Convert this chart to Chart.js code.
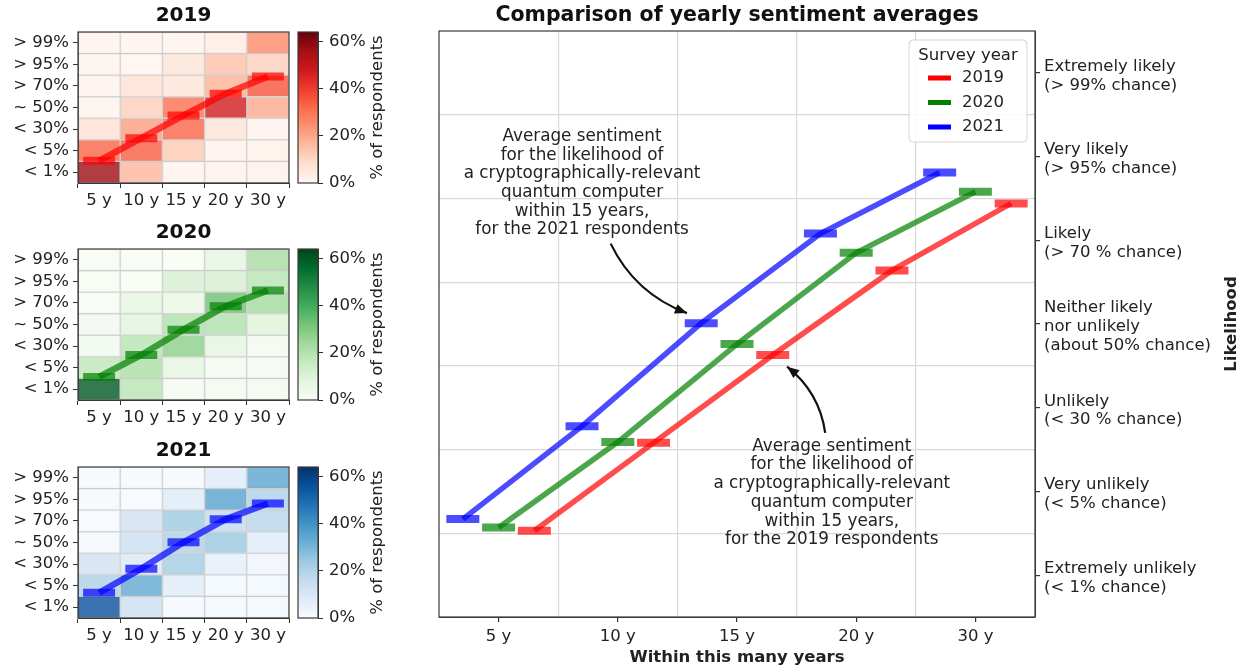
<!DOCTYPE html>
<html>
<head>
<meta charset="utf-8">
<script src="https://cdn.jsdelivr.net/npm/chart.js@4.4.1/dist/chart.umd.min.js"></script>
<style>
  body { margin: 0; background: #fff; width: 1246px; height: 667px; overflow: hidden; position: relative; }
  canvas { position: absolute; }
</style>
</head>
<body>
<canvas id="hm2019" width="300" height="213" style="left:0;top:0"></canvas>
<canvas id="cb2019" width="110" height="213" style="left:290px;top:0"></canvas>
<canvas id="hm2020" width="300" height="213" style="left:0;top:217px"></canvas>
<canvas id="cb2020" width="110" height="213" style="left:290px;top:217px"></canvas>
<canvas id="hm2021" width="300" height="213" style="left:0;top:435px"></canvas>
<canvas id="cb2021" width="110" height="213" style="left:290px;top:435px"></canvas>
<canvas id="main" width="816" height="667" style="left:430px;top:0"></canvas>
<script>
// categories and tick labels
const yearLabels = ['5 y', '10 y', '15 y', '20 y', '30 y'];
const rowLabels = ['< 1%', '< 5%', '< 30%', '~ 50%', '> 70%', '> 95%', '> 99%'];
const likelihoodLabels = [
  ['Extremely unlikely', '(< 1% chance)'],
  ['Very unlikely', '(< 5% chance)'],
  ['Unlikely', '(< 30 % chance)'],
  ['Neither likely', 'nor unlikely', '(about 50% chance)'],
  ['Likely', '(> 70 % chance)'],
  ['Very likely', '(> 95% chance)'],
  ['Extremely likely', '(> 99% chance)']
];
const surveyYears = ['2019', '2020', '2021'];
const cbTicks = [0, 20, 40, 60];
const cbMax = 64;

// average sentiment (0 = < 1% ... 6 = > 99%)
const avg2019 = [0.53, 1.58, 2.63, 3.64, 4.44];
const avg2020 = [0.57, 1.59, 2.76, 3.85, 4.58];
const avg2021 = [0.67, 1.78, 3.01, 4.08, 4.81];

// % of respondents, rows from '< 1%' up to '> 99%', columns 5 y .. 30 y
const share2019 = [
  [57, 17, 1, 2, 2],
  [33, 34, 13, 1, 2],
  [8, 22, 33, 7, 1],
  [1, 12, 31, 47, 20],
  [1, 8, 7, 18, 36],
  [1, 0.5, 7, 15, 12],
  [1, 1, 1, 4, 26]
];
const share2020 = [
  [60, 19, 2, 2, 2],
  [18, 22, 8, 2, 2],
  [3, 19, 28, 8, 2],
  [3, 9, 21, 21, 10],
  [1, 8, 6, 33, 24],
  [1, 0.5, 12, 12, 19],
  [1, 1, 0.5, 8, 23]
];
const share2021 = [
  [56, 14, 1, 2, 2],
  [21, 34, 8, 2, 2],
  [13, 10, 23, 6, 3],
  [2, 14, 21, 25, 8],
  [0.5, 13, 24, 17, 19],
  [1, 0.5, 8, 36, 21],
  [1, 1, 1, 8, 35]
];

const yearColors = ['rgb(255,0,0)', 'rgb(0,128,0)', 'rgb(0,0,255)'];
const yearFaded = ['rgba(255,0,0,0.7)', 'rgba(0,128,0,0.7)', 'rgba(0,0,255,0.7)'];
const yearOffsets = [0.3, 0, -0.3];

const colormaps = {
  Reds: ['#fff5f0', '#fee0d2', '#fcbba1', '#fc9272', '#fb6a4a', '#ef3b2c', '#cb181d', '#a50f15', '#67000d'],
  Greens: ['#f7fcf5', '#e5f5e0', '#c7e9c0', '#a1d99b', '#74c476', '#41ab5d', '#238b45', '#006d2c', '#00441b'],
  Blues: ['#f7fbff', '#deebf7', '#c6dbef', '#9ecae1', '#6baed6', '#4292c6', '#2171b5', '#08519c', '#08306b']
};

Chart.defaults.font.family = "'DejaVu Sans', sans-serif";
Chart.defaults.font.size = 16.5;
Chart.defaults.font.lineHeight = 1.15;
Chart.defaults.color = '#222';
Chart.defaults.animation = false;
Chart.defaults.events = [];
Chart.defaults.plugins.legend.display = false;
Chart.defaults.plugins.tooltip.enabled = false;

function hexRgb(h) {
  return [1, 3, 5].map(i => parseInt(h.slice(i, i + 2), 16));
}

function cmap(stops, t, alpha) {
  t = Math.max(0, Math.min(1, t));
  const p = t * (stops.length - 1);
  const i = Math.min(Math.floor(p), stops.length - 2);
  const f = p - i;
  const a = hexRgb(stops[i]), b = hexRgb(stops[i + 1]);
  const c = a.map((v, k) => Math.round(v + (b[k] - v) * f));
  return `rgba(${c[0]},${c[1]},${c[2]},${alpha})`;
}

function frame(chart) {
  const {ctx, chartArea: a} = chart;
  ctx.save();
  ctx.strokeStyle = '#3a3a3a';
  ctx.lineWidth = 1.2;
  ctx.strokeRect(a.left, a.top, a.right - a.left, a.bottom - a.top);
  ctx.restore();
}

function rotText(ctx, text, x, y, font) {
  ctx.save();
  ctx.translate(x, y);
  ctx.rotate(-Math.PI / 2);
  ctx.font = font;
  ctx.fillStyle = '#222';
  ctx.textAlign = 'center';
  ctx.textBaseline = 'middle';
  ctx.fillText(text, 0, 0);
  ctx.restore();
}

function heatmap(id, title, shares, avg, stops, k) {
  const datasets = shares.map((row, r) => ({
    type: 'bar',
    data: row.map(() => [r - 0.5, r + 0.5]),
    backgroundColor: row.map(v => cmap(stops, v / cbMax, 0.8)),
    borderColor: 'rgba(140,140,140,0.3)',
    borderWidth: 1,
    borderSkipped: false,
    grouped: false,
    barPercentage: 1,
    categoryPercentage: 1,
    order: 2
  }));
  datasets.push({
    type: 'line',
    data: avg,
    borderColor: yearFaded[k],
    borderWidth: 6.5,
    pointStyle: 'line',
    pointRadius: 16,
    pointBorderWidth: 8,
    pointBorderColor: yearFaded[k],
    pointBackgroundColor: yearFaded[k],
    order: 0
  });
  return new Chart(document.getElementById(id), {
    type: 'bar',
    data: { labels: yearLabels, datasets },
    options: {
      responsive: false,
      devicePixelRatio: 1,
      layout: { autoPadding: false, padding: { top: 32, right: 11, left: 0, bottom: 0 } },
      scales: {
        x: {
          grid: { drawOnChartArea: false, tickLength: 5, tickColor: '#333' },
          border: { color: '#333' },
          ticks: { padding: 3, maxRotation: 0, autoSkip: false },
          afterFit: s => { s.height = 30; s.paddingLeft = 0; s.paddingRight = 0; }
        },
        y: {
          min: -0.5, max: 6.5,
          afterBuildTicks: s => { s.ticks = rowLabels.map((_, i) => ({ value: i })); },
          ticks: { callback: v => rowLabels[v], padding: 4, autoSkip: false },
          grid: { drawOnChartArea: false, tickLength: 5, tickColor: '#333' },
          border: { color: '#333' },
          afterFit: s => { s.width = 78; s.paddingTop = 0; s.paddingBottom = 0; }
        }
      }
    },
    plugins: [{
      id: 'hmDecor',
      afterDraw(chart) {
        frame(chart);
        const {ctx, chartArea: a} = chart;
        ctx.save();
        ctx.font = "bold 20px 'DejaVu Sans'";
        ctx.fillStyle = '#111';
        ctx.textAlign = 'center';
        ctx.textBaseline = 'middle';
        ctx.fillText(title, (a.left + a.right) / 2, a.top - 16);
        ctx.restore();
      }
    }]
  });
}

function colorbar(id, stops) {
  return new Chart(document.getElementById(id), {
    type: 'bar',
    data: {
      labels: [''],
      datasets: [{
        data: [[0, cbMax]],
        backgroundColor: c => {
          const a = c.chart.chartArea;
          if (!a) return 'transparent';
          const g = c.chart.ctx.createLinearGradient(0, a.bottom, 0, a.top);
          stops.forEach((s, i) => g.addColorStop(i / (stops.length - 1), s));
          return g;
        },
        barPercentage: 1,
        categoryPercentage: 1,
        borderWidth: 0
      }]
    },
    options: {
      responsive: false,
      devicePixelRatio: 1,
      layout: { autoPadding: false, padding: { top: 32, left: 8, right: 0, bottom: 30 } },
      scales: {
        x: { display: false },
        y: {
          position: 'right',
          min: 0, max: cbMax,
          afterBuildTicks: s => { s.ticks = cbTicks.map(v => ({ value: v })); },
          ticks: { callback: v => v + '%', padding: 6 },
          grid: { drawOnChartArea: false, tickLength: 5, tickColor: '#333' },
          border: { color: '#333' },
          afterFit: s => { s.width = 82; s.paddingTop = 0; s.paddingBottom = 0; }
        }
      }
    },
    plugins: [{
      id: 'cbDecor',
      afterDraw(chart) {
        frame(chart);
        const a = chart.chartArea;
        rotText(chart.ctx, '% of respondents', a.right + 60, (a.top + a.bottom) / 2, "16.5px 'DejaVu Sans'");
      }
    }]
  });
}

heatmap('hm2019', '2019', share2019, avg2019, colormaps.Reds, 0);
heatmap('hm2020', '2020', share2020, avg2020, colormaps.Greens, 1);
heatmap('hm2021', '2021', share2021, avg2021, colormaps.Blues, 2);
colorbar('cb2019', colormaps.Reds);
colorbar('cb2020', colormaps.Greens);
colorbar('cb2021', colormaps.Blues);

// annotations, positioned in data units
const noteLines = year => ['Average sentiment', 'for the likelihood of', 'a cryptographically-relevant',
  'quantum computer', 'within 15 years,', 'for the ' + year + ' respondents'];
const notes = [
  { lines: noteLines('2021'), x: 0.70, y: 4.68, from: [0.94, 3.96], to: [1.58, 3.13] },
  { lines: noteLines('2019'), x: 2.795, y: 0.98, from: [2.74, 1.70], to: [2.42, 2.49] }
];

const halfSteps = (lo, hi) => {
  const t = [];
  for (let v = lo; v <= hi + 1e-9; v += 0.5) t.push({ value: v });
  return t;
};
const isInt = v => Math.abs(v - Math.round(v)) < 1e-6;

function drawArrow(ctx, x1, y1, x2, y2, bend) {
  const mx = (x1 + x2) / 2, my = (y1 + y2) / 2;
  const cx = mx - bend * (y2 - y1), cy = my + bend * (x2 - x1);
  ctx.beginPath();
  ctx.moveTo(x1, y1);
  ctx.quadraticCurveTo(cx, cy, x2, y2);
  ctx.stroke();
  const ang = Math.atan2(y2 - cy, x2 - cx);
  const len = 12, wid = 5;
  ctx.beginPath();
  ctx.moveTo(x2, y2);
  ctx.lineTo(x2 - len * Math.cos(ang) + wid * Math.sin(ang), y2 - len * Math.sin(ang) - wid * Math.cos(ang));
  ctx.lineTo(x2 - len * Math.cos(ang) - wid * Math.sin(ang), y2 - len * Math.sin(ang) + wid * Math.cos(ang));
  ctx.closePath();
  ctx.fill();
}

const mainDecor = {
  id: 'mainDecor',
  afterDatasetsDraw(chart) {
    const {ctx, scales: {x, y}} = chart;
    ctx.save();
    ctx.strokeStyle = '#111';
    ctx.font = "16.8px 'DejaVu Sans'";
    ctx.textAlign = 'center';
    ctx.textBaseline = 'middle';
    notes.forEach(n => {
      const cx = x.getPixelForValue(n.x), cy = y.getPixelForValue(n.y);
      const lh = 18.7;
      ctx.fillStyle = '#222';
      n.lines.forEach((l, i) => ctx.fillText(l, cx, cy + (i - (n.lines.length - 1) / 2) * lh));
      ctx.fillStyle = '#111';
      ctx.lineWidth = 2.2;
      drawArrow(ctx, x.getPixelForValue(n.from[0]), y.getPixelForValue(n.from[1]),
        x.getPixelForValue(n.to[0]), y.getPixelForValue(n.to[1]), 0.2);
    });
    ctx.restore();
  },
  afterDraw(chart) {
    frame(chart);
    const {ctx, chartArea: a} = chart;
    ctx.save();
    // title
    ctx.font = "bold 20.5px 'DejaVu Sans'";
    ctx.fillStyle = '#111';
    ctx.textAlign = 'center';
    ctx.textBaseline = 'middle';
    ctx.fillText('Comparison of yearly sentiment averages', (a.left + a.right) / 2, a.top - 15);
    // legend
    const w = 118, h = 102, lx = a.right - 8 - w, ly = a.top + 9;
    ctx.beginPath();
    ctx.roundRect(lx, ly, w, h, 4);
    ctx.fillStyle = 'rgba(255,255,255,0.85)';
    ctx.fill();
    ctx.strokeStyle = '#d4d4d4';
    ctx.lineWidth = 1;
    ctx.stroke();
    ctx.font = "16.5px 'DejaVu Sans'";
    ctx.fillStyle = '#222';
    ctx.fillText('Survey year', lx + w / 2, ly + 16);
    ctx.textAlign = 'left';
    chart.data.datasets.forEach((ds, i) => {
      const yy = ly + 38 + i * 24.5;
      ctx.strokeStyle = yearColors[i];
      ctx.lineWidth = 5;
      ctx.beginPath();
      ctx.moveTo(lx + 19, yy);
      ctx.lineTo(lx + 42, yy);
      ctx.stroke();
      ctx.fillStyle = '#222';
      ctx.fillText(ds.label, lx + 53, yy);
    });
    ctx.restore();
    rotText(ctx, 'Likelihood', a.right + 197, (a.top + a.bottom) / 2, "bold 16.5px 'DejaVu Sans'");
  }
};

new Chart(document.getElementById('main'), {
  type: 'line',
  data: {
    datasets: [avg2019, avg2020, avg2021].map((avg, k) => ({
      label: surveyYears[k],
      data: avg.map((v, i) => ({ x: i + yearOffsets[k], y: v })),
      borderColor: yearFaded[k],
      borderWidth: 5.5,
      pointStyle: 'line',
      pointRadius: 16.5,
      pointBorderWidth: 8,
      pointBorderColor: yearFaded[k],
      pointBackgroundColor: yearFaded[k],
      fill: false
    }))
  },
  options: {
    responsive: false,
    devicePixelRatio: 1,
    layout: { autoPadding: false, padding: { top: 31, left: 9, right: 0, bottom: 0 } },
    scales: {
      x: {
        type: 'linear',
        min: -0.5, max: 4.5,
        afterBuildTicks: s => { s.ticks = halfSteps(-0.5, 4.5); },
        ticks: { callback: v => isInt(v) ? yearLabels[Math.round(v)] : '', padding: 5, autoSkip: false, maxRotation: 0 },
        grid: {
          color: c => (c.tick && !isInt(c.tick.value) && c.tick.value > -0.5 && c.tick.value < 4.5) ? '#d9d9d9' : 'rgba(0,0,0,0)',
          tickColor: c => (c.tick && isInt(c.tick.value)) ? '#333' : 'rgba(0,0,0,0)',
          lineWidth: 1.2,
          tickLength: 5
        },
        border: { color: '#3a3a3a' },
        title: { display: true, text: 'Within this many years', font: { weight: 'bold', size: 16.5 }, padding: { top: 0, bottom: 0 } },
        afterFit: s => { s.height = 50; s.paddingLeft = 0; s.paddingRight = 0; }
      },
      y: {
        type: 'linear',
        position: 'right',
        min: -0.5, max: 6.5,
        afterBuildTicks: s => { s.ticks = halfSteps(-0.5, 6.5); },
        ticks: { callback: v => isInt(v) ? likelihoodLabels[Math.round(v)] : '', padding: 4, labelOffset: 3, autoSkip: false },
        grid: {
          color: c => (c.tick && !isInt(c.tick.value) && c.tick.value > -0.5 && c.tick.value < 6.5) ? '#d9d9d9' : 'rgba(0,0,0,0)',
          tickColor: c => (c.tick && isInt(c.tick.value)) ? '#333' : 'rgba(0,0,0,0)',
          lineWidth: 1.2,
          tickLength: 5
        },
        border: { color: '#3a3a3a' },
        afterFit: s => { s.width = 211; s.paddingTop = 0; s.paddingBottom = 0; }
      }
    }
  },
  plugins: [mainDecor]
});
</script>
</body>
</html>
